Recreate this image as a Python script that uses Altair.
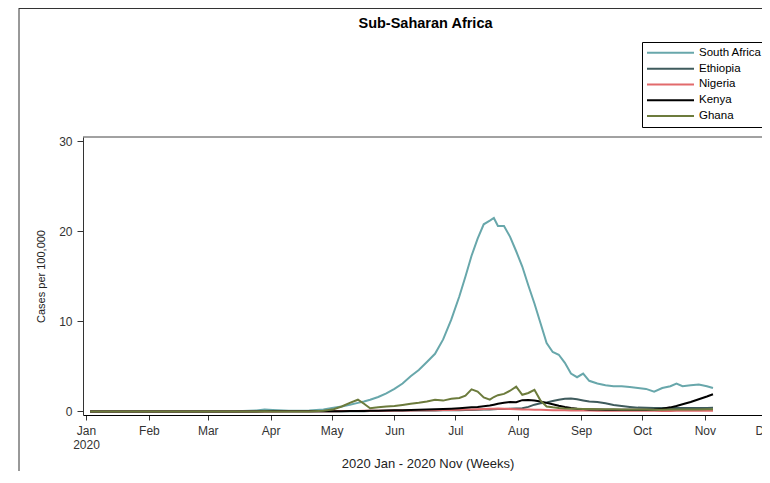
import altair as alt
import pandas as pd

# ---------------- data ----------------
dates = [
    "2020-01-03", "2020-01-15", "2020-02-01", "2020-02-15", "2020-03-01", "2020-03-15",
    "2020-03-25", "2020-03-29", "2020-04-02", "2020-04-10", "2020-04-20", "2020-04-27",
    "2020-05-02", "2020-05-06", "2020-05-10", "2020-05-14", "2020-05-17", "2020-05-20",
    "2020-05-24", "2020-05-28", "2020-06-01", "2020-06-05", "2020-06-09", "2020-06-13",
    "2020-06-17", "2020-06-21", "2020-06-25", "2020-06-29", "2020-07-03", "2020-07-06",
    "2020-07-09", "2020-07-12", "2020-07-15", "2020-07-18", "2020-07-20", "2020-07-22",
    "2020-07-25", "2020-07-28", "2020-07-31", "2020-08-03", "2020-08-06", "2020-08-09",
    "2020-08-12", "2020-08-15", "2020-08-18", "2020-08-21", "2020-08-24", "2020-08-27",
    "2020-08-30", "2020-09-02", "2020-09-05", "2020-09-09", "2020-09-13", "2020-09-17",
    "2020-09-21", "2020-09-25", "2020-09-29", "2020-10-03", "2020-10-07", "2020-10-11",
    "2020-10-15", "2020-10-18", "2020-10-21", "2020-10-25", "2020-10-29", "2020-11-02",
    "2020-11-05",
]

south_africa = [
    0, 0, 0, 0, 0, 0.02, 0.1, 0.2, 0.15, 0.08, 0.1, 0.2,
    0.4, 0.55, 0.75, 0.95, 1.1, 1.3, 1.6, 2.0, 2.5, 3.1, 3.9, 4.6,
    5.5, 6.4, 8.0, 10.2, 12.8, 15.0, 17.3, 19.2, 20.8, 21.2, 21.5, 20.6,
    20.6, 19.4, 17.8, 16.1, 14.0, 12.0, 9.8, 7.6, 6.6, 6.3, 5.4, 4.2,
    3.8, 4.2, 3.4, 3.1, 2.9, 2.8, 2.8, 2.7, 2.6, 2.5, 2.2, 2.6,
    2.8, 3.1, 2.8, 2.9, 3.0, 2.8, 2.6,
]

ethiopia = [
    0, 0, 0, 0, 0, 0, 0.01, 0.01, 0.01, 0.01, 0.01, 0.01,
    0.01, 0.02, 0.02, 0.03, 0.03, 0.04, 0.05, 0.06, 0.07, 0.08, 0.09, 0.1,
    0.1, 0.11, 0.12, 0.13, 0.14, 0.15, 0.16, 0.18, 0.2, 0.22, 0.24, 0.26,
    0.28, 0.3, 0.32, 0.35, 0.5, 0.75, 0.9, 1.0, 1.15, 1.3, 1.4, 1.42,
    1.35, 1.22, 1.1, 1.05, 0.9, 0.72, 0.6, 0.5, 0.42, 0.4, 0.38, 0.37,
    0.38, 0.38, 0.37, 0.38, 0.38, 0.39, 0.4,
]

nigeria = [
    0, 0, 0, 0, 0, 0, 0, 0, 0, 0.01, 0.01, 0.02,
    0.03, 0.04, 0.05, 0.05, 0.06, 0.06, 0.07, 0.08, 0.09, 0.1, 0.11, 0.12,
    0.13, 0.14, 0.15, 0.16, 0.18, 0.2, 0.22, 0.24, 0.27, 0.29, 0.3, 0.31,
    0.3, 0.28, 0.25, 0.22, 0.2, 0.19, 0.17, 0.15, 0.14, 0.13, 0.12, 0.11,
    0.1, 0.09, 0.09, 0.08, 0.08, 0.07, 0.07, 0.06, 0.06, 0.06, 0.06, 0.05,
    0.05, 0.06, 0.06, 0.06, 0.06, 0.07, 0.07,
]

kenya = [
    0, 0, 0, 0, 0, 0, 0, 0.01, 0.01, 0.01, 0.02, 0.02,
    0.03, 0.03, 0.04, 0.05, 0.05, 0.06, 0.08, 0.1, 0.12, 0.14, 0.16, 0.18,
    0.2, 0.23, 0.26, 0.3, 0.35, 0.4, 0.45, 0.5, 0.58, 0.66, 0.75, 0.85,
    0.95, 1.05, 1.02, 1.25, 1.28, 1.22, 1.1, 0.95, 0.8, 0.62, 0.48, 0.38,
    0.3, 0.26, 0.22, 0.2, 0.19, 0.18, 0.18, 0.17, 0.17, 0.18, 0.22, 0.3,
    0.45, 0.6, 0.8, 1.05, 1.35, 1.65, 1.9,
]

ghana = [
    0, 0, 0, 0, 0, 0, 0, 0.01, 0, 0, 0, 0.08,
    0.25, 0.55, 0.95, 1.3, 0.85, 0.35, 0.45, 0.55, 0.6, 0.72, 0.85, 0.95,
    1.1, 1.3, 1.2, 1.4, 1.5, 1.75, 2.45, 2.2, 1.55, 1.3, 1.6, 1.8,
    1.95, 2.3, 2.75, 1.85, 2.05, 2.4, 1.2, 0.55, 0.45, 0.38, 0.33, 0.3,
    0.3, 0.28, 0.27, 0.25, 0.25, 0.23, 0.22, 0.21, 0.2, 0.2, 0.19, 0.19,
    0.2, 0.2, 0.2, 0.21, 0.22, 0.23, 0.24,
]

countries = ["South Africa", "Ethiopia", "Nigeria", "Kenya", "Ghana"]
colors = ["#68a7ab", "#3f5b5d", "#e26a6c", "#000000", "#6c7b3c"]

wide = pd.DataFrame({
    "date": dates,
    "South Africa": south_africa,
    "Ethiopia": ethiopia,
    "Nigeria": nigeria,
    "Kenya": kenya,
    "Ghana": ghana,
})
df = wide.melt(id_vars="date", var_name="country", value_name="cases")

FONT = "Liberation Sans"

x_start = int(pd.Timestamp("2019-12-30 12:00", tz="UTC").value // 10**6)
x_end = int(pd.Timestamp("2020-12-04 02:00", tz="UTC").value // 10**6)

label_expr = (
    "utcmonth(datum.value) == 0 ? "
    "[utcFormat(datum.value, '%b'), utcFormat(datum.value, '%Y')] : "
    "utcFormat(datum.value, '%b')"
)

lines = alt.Chart(df).mark_line(strokeWidth=2, clip=True).encode(
    x=alt.X(
        "date:T",
        title="2020 Jan - 2020 Nov (Weeks)",
        scale=alt.Scale(type="utc", domain=[x_start, x_end], nice=False),
        axis=alt.Axis(
            tickCount=alt.TimeIntervalStep(interval="month", step=1),
            labelExpr=label_expr,
            grid=False,
            tickSize=5,
            labelPadding=5,
            titlePadding=7,
            labelFontSize=12,
            titleFontSize=13,
            labelAngle=0,
            labelFlush=False,
            labelOverlap=False,
            domainColor="#000000",
        ),
    ),
    y=alt.Y(
        "cases:Q",
        title="Cases per 100,000",
        scale=alt.Scale(domain=[-0.4, 30.5], nice=False, zero=False),
        axis=alt.Axis(
            values=[0, 10, 20, 30],
            grid=False,
            tickSize=6,
            labelPadding=5,
            titlePadding=12,
            labelFontSize=12,
            titleFontSize=11,
        ),
    ),
    color=alt.Color(
        "country:N",
        sort=countries,
        scale=alt.Scale(domain=countries, range=colors),
        legend=alt.Legend(
            title=None,
            orient="none",
            legendX=559,
            legendY=-95,
            direction="vertical",
            symbolType="stroke",
            symbolSize=2209,
            symbolStrokeWidth=2,
            clipHeight=13.7,
            rowPadding=1.8,
            labelFont=FONT,
            labelFontSize=11.5,
            labelColor="#000000",
            labelOffset=4,
            padding=4,
            strokeColor="#000000",
            fillColor="#ffffff",
        ),
    ),
)

# decorative frame lines (plot top edge, and the outer page frame)
plot_top = alt.Chart(alt.Data(values=[{}])).mark_rule(color="#444444", strokeWidth=1).encode(
    x=alt.value(0), x2=alt.value(700), y=alt.value(0)
)
frame_left = alt.Chart(alt.Data(values=[{}])).mark_rule(color="#333333", strokeWidth=1).encode(
    x=alt.value(-64), y=alt.value(-129), y2=alt.value(340)
)
frame_top = alt.Chart(alt.Data(values=[{}])).mark_rule(color="#333333", strokeWidth=1).encode(
    x=alt.value(-64), x2=alt.value(700), y=alt.value(-128.5)
)

chart = alt.layer(lines, plot_top, frame_left, frame_top).properties(
    width=689,
    height=278,
    title=alt.TitleParams(
        "Sub-Saharan Africa",
        font=FONT,
        fontSize=14.5,
        fontWeight="bold",
        color="#000000",
        anchor="middle",
        frame="group",
        baseline="alphabetic",
        offset=-35,
        dx=-2,
    ),
    padding={"left": 75, "top": 129, "right": -10, "bottom": 56},
    autosize=alt.AutoSizeParams(type="none"),
).configure_view(
    stroke=None
).configure_axis(
    labelFont=FONT,
    titleFont=FONT,
    labelColor="#333333",
    titleColor="#222222",
    domainColor="#333333",
    tickColor="#333333",
    titleFontWeight="normal",
)

chart.save("out.html", embed_options={"renderer": "svg", "actions": False})
